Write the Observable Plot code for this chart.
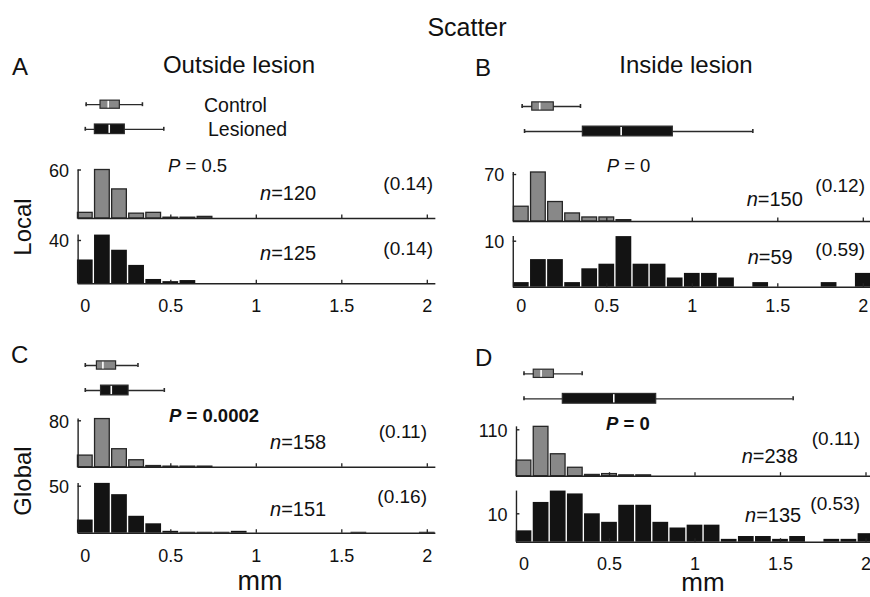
<!DOCTYPE html>
<html><head><meta charset="utf-8">
<script src="https://cdn.jsdelivr.net/npm/d3@7"></script>
<script src="https://cdn.jsdelivr.net/npm/@observablehq/plot@0.6"></script>
<style>
html,body{margin:0;padding:0;background:#fff;overflow:hidden}
#chart{position:relative;width:870px;height:597px;font-family:"Liberation Sans",Arial,Helvetica,sans-serif}
#chart svg{position:absolute;left:0;top:0;overflow:visible;max-width:none}
</style></head><body><div id="chart"></div>
<script>
// ---------- data ----------
const binCenters = [0,0.1,0.2,0.3,0.4,0.5,0.6,0.7,0.8,0.9,1.0,1.1,1.2,1.3,1.4,1.5,1.6,1.7,1.8,1.9,2.0];
const countsA_control  = [7,60,36,6,7,1,1,2];
const countsA_lesioned = [22,45,31,17,4,2,3];
const countsB_control  = [22,73,29,12,6,6,2];
const countsB_lesioned = [1,6,6,1,4,5,11,5,5,2,3,3,2,0,1,0,0,0,1,0,3];
const countsC_control  = [20,83,31,12,2,1,1,1];
const countsC_lesioned = [14,53,41,18,10,2,1,1,1,2,0,0,0,0,0,0,1,0,0,0,1];
const countsD_control  = [37,117,52,20,3,5,2,2];
const countsD_lesioned = [4,14,18,17,10,7,13,13,7,5,6,6,1,2,2,1,2,0,1,1,3];
// box stats: [whisker low, q1, median, q3, whisker high] in mm
const boxA_control  = [0.005,0.089,0.134,0.202,0.334];
const boxA_lesioned = [0,0.056,0.140,0.231,0.459];
const boxB_control  = [0.005,0.064,0.108,0.190,0.346];
const boxB_lesioned = [0.019,0.360,0.584,0.886,1.354];
const boxC_control  = [0,0.068,0.103,0.180,0.308];
const boxC_lesioned = [0,0.092,0.152,0.253,0.462];
const boxD_control  = [0,0.057,0.100,0.175,0.340];
const boxD_lesioned = [0,0.227,0.525,0.773,1.574];
const xTicks = [0,0.5,1,1.5,2];
const yTickTop = [60,70,80,110];
const yTickBottom = [40,10,50,10];
const nControl  = [120,150,158,238];
const nLesioned = [125,59,151,135];
const medControl  = ["(0.14)","(0.12)","(0.11)","(0.11)"];
const medLesioned = ["(0.14)","(0.59)","(0.16)","(0.53)"];
const pValues = ["0.5","0","0.0002","0"];
const groups = ["Control","Lesioned"];

// ---------- layout ----------
const FONT = '"Liberation Sans",Arial,Helvetica,sans-serif';
const K = 171; // px per mm
const layout = [
  {x0:84.8, axisX:-0.042, xEnd:2.05, box:[104.2,128.8], top:[218,169.5], bot:[283.3,240], xLab:311.5},
  {x0:520.8, axisX:-0.047, xEnd:2.12, box:[106,131], top:[221,174], bot:[286.7,240.7], xLab:311.5},
  {x0:84.8, axisX:-0.042, xEnd:2.05, box:[365,390], top:[466.7,420.3], bot:[532.7,485.7], xLab:561.7},
  {x0:523.5, axisX:-0.044, xEnd:2.12, box:[373.3,398.3], top:[475.7,429.3], bot:[541.7,513.3], xLab:569.5}
];
const countsAll = [[countsA_control,countsA_lesioned],[countsB_control,countsB_lesioned],[countsC_control,countsC_lesioned],[countsD_control,countsD_lesioned]];
const boxesAll = [[boxA_control,boxA_lesioned],[boxB_control,boxB_lesioned],[boxC_control,boxC_lesioned],[boxD_control,boxD_lesioned]];

const AX = "#222";
const GRAY = "#888888";
const BLACK = "#131313";
const chart = document.getElementById("chart");

function histPlot(counts, L, base, tickPx, tickVal, isGray, withLabels) {
  const ymax = d3.max(counts);
  const pxPer = (base - tickPx) / tickVal;
  const half = isGray ? 0.043 : 0.046;
  const bars = counts.map((n, i) => ({c: binCenters[i], n})).filter(d => d.n > 0);
  const marks = [
    Plot.rectY(bars, {x1: d => d.c - half, x2: d => d.c + half, y1: 0, y2: "n",
      fill: isGray ? GRAY : BLACK, stroke: isGray ? "#262626" : "none", strokeWidth: 1.3}),
    Plot.ruleY([0], {x1: L.axisX, x2: L.xEnd, stroke: AX, strokeWidth: 1.4}),
    Plot.ruleX([L.axisX], {y1: 0, y2: ymax, stroke: AX, strokeWidth: 1.4}),
    Plot.ruleY([tickVal], {x1: L.axisX, x2: L.axisX + 0.02, stroke: AX, strokeWidth: 1.4}),
    Plot.ruleX(xTicks.slice(1), {y1: 0, y2: 3.5 / pxPer, stroke: AX, strokeWidth: 1.3}),
    Plot.text([tickVal], {x: L.axisX, y: d => d, text: d => String(d), textAnchor: "end", dx: -9, dy: 1,
      fontSize: 18, fontFamily: FONT, fill: "#111"})
  ];
  if (withLabels) {
    marks.push(Plot.text(xTicks, {x: d => d, y: 0, text: d => String(d), lineAnchor: "bottom",
      dy: L.xLab - base, fontSize: 18, fontFamily: FONT, fill: "#111"}));
  }
  return Plot.plot({
    width: 870, height: 597, margin: 0,
    style: {background: "transparent", overflow: "visible"},
    x: {domain: [L.axisX, L.xEnd], range: [L.x0 + L.axisX * K, L.x0 + L.xEnd * K], axis: null},
    y: {domain: [0, tickVal], range: [base, tickPx], axis: null},
    marks
  });
}

function boxPlot(stats, L) {
  const rows = stats.map((s, i) => ({g: groups[i], i, lo: s[0], q1: s[1], med: s[2], q3: s[3], hi: s[4],
    hh: i === 0 ? 0.165 : 0.195}));
  const marks = [];
  rows.forEach((r, i) => {
    const col = i === 0 ? GRAY : BLACK;
    marks.push(
      Plot.ruleY([r], {y: "i", x1: "lo", x2: "hi", stroke: "#2a2a2a", strokeWidth: 1.3}),
      Plot.ruleX([r], {x: "lo", y1: d => d.i - 0.08, y2: d => d.i + 0.08, stroke: "#2a2a2a", strokeWidth: 1.6}),
      Plot.ruleX([r], {x: "hi", y1: d => d.i - 0.08, y2: d => d.i + 0.08, stroke: "#2a2a2a", strokeWidth: 1.6}),
      Plot.rect([r], {x1: "q1", x2: "q3", y1: d => d.i - d.hh, y2: d => d.i + d.hh, fill: col, stroke: "#2a2a2a", strokeWidth: 1.2}),
      Plot.ruleX([r], {x: "med", y1: d => d.i - d.hh + 0.03, y2: d => d.i + d.hh - 0.03, stroke: "white", strokeWidth: 1.6})
    );
  });
  return Plot.plot({
    width: 870, height: 597, margin: 0,
    style: {background: "transparent", overflow: "visible"},
    x: {domain: [0, 2], range: [L.x0, L.x0 + 2 * K], axis: null},
    y: {domain: [0, 1], range: L.box, axis: null},
    marks
  });
}

layout.forEach((L, p) => {
  chart.appendChild(boxPlot(boxesAll[p], L));
  chart.appendChild(histPlot(countsAll[p][0], L, L.top[0], L.top[1], yTickTop[p], true, false));
  chart.appendChild(histPlot(countsAll[p][1], L, L.bot[0], L.bot[1], yTickBottom[p], false, true));
});

// ---------- text layer ----------
const svg = d3.select(chart).append("svg").attr("width", 870).attr("height", 597)
  .style("font-family", FONT).attr("fill", "#111");
function txt(x, y, size, anchor, parts, extra) {
  const t = svg.append("text").attr("x", x).attr("y", y).attr("font-size", size).attr("text-anchor", anchor || "start");
  if (extra) extra(t);
  (Array.isArray(parts) ? parts : [[parts]]).forEach(([s, st]) => {
    const ts = t.append("tspan").text(s);
    if (st === "i") ts.attr("font-style", "italic");
  });
  return t;
}
txt(467, 36, 25, "middle", "Scatter");
txt(12, 75, 24, "start", "A");
txt(239, 73, 24, "middle", "Outside lesion");
txt(475, 76, 24, "start", "B");
txt(686, 73, 24, "middle", "Inside lesion");
txt(11, 363, 24, "start", "C");
txt(475, 366, 24, "start", "D");
txt(204, 111.5, 19.5, "start", groups[0]);
txt(208, 136, 19.5, "start", groups[1]);
txt(0, 0, 24, "middle", "Local", t => t.attr("transform", "translate(31,227) rotate(-90)"));
txt(0, 0, 24, "middle", "Global", t => t.attr("transform", "translate(31,481) rotate(-90)"));
txt(260, 590, 27, "middle", "mm");
txt(703, 591, 26, "middle", "mm");

const pPos = [[168,171.5,false],[606.7,171.7,false],[169,422.3,true],[606,430,true]];
const nPos = [[[260,200],[260,260]],[[746.7,206],[747.7,264]],[[270,449.3],[270,516]],[[741.7,462.7],[745,521.7]]];
const mPos = [[[433,190],[433,255]],[[865,191.7],[865,256]],[[427,438],[427,503.3]],[[860,445],[860,510]]];
pPos.forEach(([x, y, bold], p) => {
  txt(x, y, 18.5, "start", [["P","i"],[" = " + pValues[p]]], t => { if (bold) t.attr("font-weight", "bold"); });
  txt(nPos[p][0][0], nPos[p][0][1], 20, "start", [["n","i"],["=" + nControl[p]]]);
  txt(nPos[p][1][0], nPos[p][1][1], 20, "start", [["n","i"],["=" + nLesioned[p]]]);
  txt(mPos[p][0][0], mPos[p][0][1], 19, "end", medControl[p]);
  txt(mPos[p][1][0], mPos[p][1][1], 19, "end", medLesioned[p]);
});
</script></body></html>
